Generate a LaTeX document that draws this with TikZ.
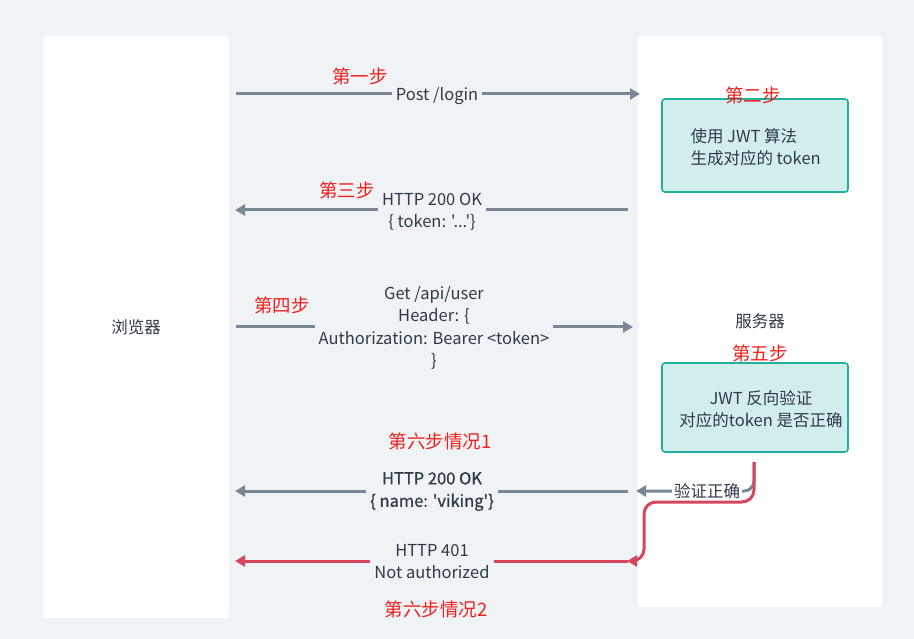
\documentclass[tikz,border=0pt]{standalone}
\usepackage{fontspec}
\setmainfont{Noto Sans CJK SC}[Ligatures=TeXOff]
\newfontfamily\semib{Noto Sans CJK SC}[Ligatures=TeXOff,FakeBold=0.7]
\usetikzlibrary{arrows.meta}
\definecolor{bg}{HTML}{EFF3F6}
\definecolor{txt}{HTML}{2F3B47}
\definecolor{garr}{HTML}{7A8896}
\definecolor{rarr}{HTML}{D5455B}
\definecolor{teal}{HTML}{22B09E}
\definecolor{boxfill}{HTML}{D2EEEC}
\definecolor{steplbl}{HTML}{F0201E}
\tikzset{
  base/.style={font=\fontsize{16.5}{22.5}\selectfont, text=txt, align=center},
  panel/.style={base, fill=white, rounded corners=3pt, inner sep=0pt},
  algbox/.style={base, draw=teal, fill=boxfill, line width=1.6pt, rounded corners=3pt, inner sep=0pt},
  msg/.style={base, fill=bg, inner xsep=4pt, inner ysep=1pt},
  steptxt/.style={font=\fontsize{18.5}{22}\selectfont, text=steplbl},
  garrow/.style={draw=garr, line width=3pt, -{Triangle[length=10pt,width=11pt]}},
  rarrow/.style={draw=rarr, line width=3pt, -{Triangle[length=10pt,width=11pt]}},
}
\begin{document}
\begin{tikzpicture}[x=1pt,y=-1pt]
\path[fill=bg] (0,0) rectangle (914,639);
\useasboundingbox (0,0) rectangle (914,639);
% panels
\node[panel, minimum width=186pt, minimum height=582pt] (browser) at (136,327) {浏览器};
\node[panel, minimum width=244pt, minimum height=571pt] (server) at (760,321.5) {服务器};
% boxes
\node[algbox, minimum width=186pt, minimum height=93pt] (gen) at (755,145.5) {};
\node[base, align=left, anchor=west] (gentxt) at (687,147) {使用 JWT 算法\\生成对应的 token};
\node[algbox, minimum width=186pt, minimum height=89pt] (verify) at (755,407.5) {};
\node[base] (verifytxt) at (761,409) {JWT 反向验证\\对应的token 是否正确};
% coordinates
\coordinate (a1s) at (236,94);   \coordinate (a1e) at (640,94);
\coordinate (a2s) at (628,210);  \coordinate (a2e) at (235,210);
\coordinate (a3s) at (236,327);  \coordinate (a3e) at (633,327);
\coordinate (a4s) at (628,491);  \coordinate (a4e) at (235,491);
\coordinate (a5s) at (628,561);  \coordinate (a5e) at (235,561);
\coordinate (vb) at (754,462);
\coordinate (okend) at (636,491);
\coordinate (failend) at (627,561);
% arrows
\draw[garrow] (a1s) -- (a1e);
\draw[garrow] (a2s) -- (a2e);
\draw[garrow] (a3s) -- (a3e);
\draw[garrow] (a4s) -- (a4e);
\draw[rarrow] (a5s) -- (a5e);
\draw[garrow, rounded corners=10pt] (vb) -- (754,491) -- (okend);
\node[base, fill=white, inner xsep=2pt, inner ysep=0pt] (oklbl) at (707,491) {验证正确};
\draw[rarrow, rounded corners=12pt] (vb) -- (754,502) -- (644,502) -- (644,561) -- (failend);
% message labels
\node[msg] (m1) at (437,95.5) {Post /login};
\node[msg] (m2) at (432,211.5) {HTTP 200 OK\\\{ token: '...'\}};
\node[msg] (m3) at (434,328) {Get /api/user\\Header: \{\\Authorization: Bearer <token>\\\}};
\node[msg, font=\fontsize{16.5}{22.5}\semib] (m4) at (432,491.5) {HTTP 200 OK\\\{ name: 'viking'\}};
\node[msg] (m5) at (432,561.5) {HTTP 401\\Not authorized};
% step labels
\node[steptxt] (s1) at (360,76) {第一步};
\node[steptxt] (s2) at (753,95) {第二步};
\node[steptxt] (s3) at (347,190) {第三步};
\node[steptxt] (s4) at (282,305) {第四步};
\node[steptxt] (s5) at (760,353) {第五步};
\node[steptxt] (s61) at (440,441) {第六步情况1};
\node[steptxt] (s62) at (436,609) {第六步情况2};
\end{tikzpicture}
\end{document}
